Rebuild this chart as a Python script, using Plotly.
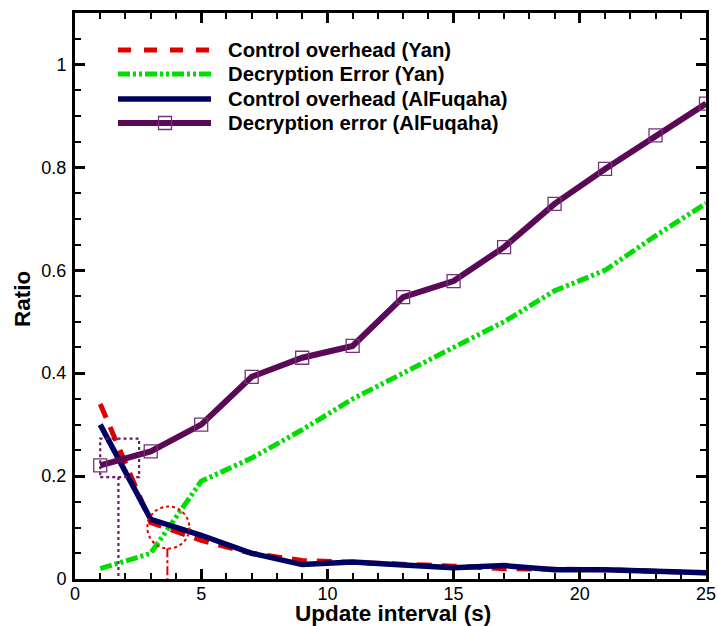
import plotly.graph_objects as go

# ---------------- data ----------------
x_vals = [1, 3, 5, 7, 9, 11, 13, 15, 17, 19, 21, 23, 25]
ctrl_yan = [0.34, 0.11, 0.075, 0.05, 0.036, 0.033, 0.03, 0.025, 0.02, 0.02, 0.018, 0.015, 0.012]
decr_yan = [0.02, 0.05, 0.19, 0.235, 0.29, 0.35, 0.40, 0.45, 0.50, 0.56, 0.60, 0.667, 0.73]
ctrl_alf = [0.30, 0.116, 0.085, 0.05, 0.028, 0.033, 0.027, 0.022, 0.026, 0.018, 0.018, 0.016, 0.012]
decr_alf = [0.221, 0.248, 0.30, 0.393, 0.43, 0.453, 0.548, 0.579, 0.645, 0.729, 0.797, 0.862, 0.924]

series_names = ["Control overhead (Yan)", "Decryption Error (Yan)",
                "Control overhead (AlFuqaha)", "Decryption error (AlFuqaha)"]

x_ticks = [0, 5, 10, 15, 20, 25]
y_ticks = [0, 0.2, 0.4, 0.6, 0.8, 1]
y_tick_text = ["0", "0.2", "0.4", "0.6", "0.8", "1"]
x_title = "Update interval (s)"
y_title = "Ratio"

RED = "#e00000"
GREEN = "#00dd00"
NAVY = "#000060"
PURPLE = "#5a0a55"
MARK = "#7a2f7e"
FONT = "Liberation Sans, Arial, sans-serif"
GREEN_DASH = "12px,3px,3px,3px,3px,3px"
RED_DASH = "15px,10px"

W, H = 718, 626
ML, MR, MT, MB = 75, 12, 13, 47

fig = go.Figure()
fig.add_trace(go.Scatter(x=x_vals, y=ctrl_yan, mode="lines", name=series_names[0],
                         line=dict(color=RED, width=5, dash=RED_DASH), showlegend=False))
fig.add_trace(go.Scatter(x=x_vals, y=decr_yan, mode="lines", name=series_names[1],
                         line=dict(color=GREEN, width=5, dash=GREEN_DASH), showlegend=False))
fig.add_trace(go.Scatter(x=x_vals, y=ctrl_alf, mode="lines", name=series_names[2],
                         line=dict(color=NAVY, width=5.5), showlegend=False))
fig.add_trace(go.Scatter(x=x_vals, y=decr_alf, mode="lines+markers", name=series_names[3],
                         line=dict(color=PURPLE, width=6),
                         marker=dict(symbol="square-open", size=13, color=MARK,
                                     line=dict(color=MARK, width=1.3)),
                         showlegend=False))

# ---------- highlight annotations (dotted box, circle, drop lines) ----------
fig.add_shape(type="rect", x0=1.0, x1=2.54, y0=0.198, y1=0.273, xref="x", yref="y",
              line=dict(color="#6a1a66", width=2.2, dash="dot"))
fig.add_shape(type="line", x0=1.72, x1=1.72, y0=0.198, y1=0, xref="x", yref="y",
              line=dict(color="#6a1a66", width=2.2, dash="dot"))
fig.add_shape(type="circle", xref="x", yref="y", xsizemode="pixel", ysizemode="pixel",
              xanchor=3.70, yanchor=0.10, x0=-21, x1=21, y0=-21, y1=21,
              line=dict(color=RED, width=2, dash="dot"))
fig.add_shape(type="line", x0=3.66, x1=3.66, y0=0.06, y1=0, xref="x", yref="y",
              line=dict(color=RED, width=2, dash="dashdot"))

# ---------------- manual legend ----------------
pw = W - ML - MR
ph = H - MT - MB


def px2paper_x(px):
    return (px - ML) / pw


def px2paper_y(py):
    return (H - MB - py) / ph


legend_rows = [
    (50, dict(color=RED, width=5, dash="13px,13px")),
    (74, dict(color=GREEN, width=5, dash=GREEN_DASH)),
    (99, dict(color=NAVY, width=5.5)),
    (123, dict(color=PURPLE, width=6)),
]
for (py, ln), name in zip(legend_rows, series_names):
    fig.add_shape(type="line", xref="paper", yref="paper",
                  x0=px2paper_x(118), x1=px2paper_x(211),
                  y0=px2paper_y(py), y1=px2paper_y(py), line=ln)
    fig.add_annotation(xref="paper", yref="paper", x=px2paper_x(226), y=px2paper_y(py),
                       xanchor="left", yanchor="middle", showarrow=False,
                       text="<b>" + name + "</b>",
                       font=dict(family=FONT, size=20.3, color="black"))
fig.add_shape(type="rect", xref="paper", yref="paper", xsizemode="pixel", ysizemode="pixel",
              xanchor=px2paper_x(165), yanchor=px2paper_y(123),
              x0=-6.5, x1=6.5, y0=-6.5, y1=6.5,
              line=dict(color=MARK, width=1.3), fillcolor="rgba(0,0,0,0)")

# axis titles
fig.add_annotation(xref="paper", yref="paper", x=px2paper_x(393), y=px2paper_y(613),
                   xanchor="center", yanchor="middle", showarrow=False,
                   text="<b>" + x_title + "</b>",
                   font=dict(family=FONT, size=22.5, color="black"))
fig.add_annotation(xref="paper", yref="paper", x=px2paper_x(22), y=px2paper_y(299),
                   xanchor="center", yanchor="middle", showarrow=False, textangle=-90,
                   text="<b>" + y_title + "</b>",
                   font=dict(family=FONT, size=22.5, color="black"))

axis_common = dict(showline=True, linecolor="black", linewidth=3, mirror="allticks",
                   ticks="inside", ticklen=10, tickwidth=2.5, tickcolor="black",
                   showgrid=False, zeroline=False,
                   tickfont=dict(family=FONT, size=18, color="black"))

fig.update_xaxes(range=[0, 25], tickvals=x_ticks, ticktext=[str(v) for v in x_ticks],
                 minor=dict(dtick=1, ticks="inside", ticklen=6, tickwidth=1.5,
                            tickcolor="black", showgrid=False),
                 ticklabelstandoff=-4,
                 **axis_common)
fig.update_yaxes(range=[0, 1.1], tickvals=y_ticks, ticktext=y_tick_text,
                 minor=dict(dtick=0.05, ticks="inside", ticklen=6, tickwidth=1.5,
                            tickcolor="black", showgrid=False),
                 ticklabelstandoff=2,
                 **axis_common)

fig.update_layout(width=W, height=H, margin=dict(l=ML, r=MR, t=MT, b=MB, autoexpand=False),
                  plot_bgcolor="white", paper_bgcolor="white", showlegend=False)

fig.write_html("out.html", config={"displayModeBar": False},
               post_script="document.body.style.margin='0';")
